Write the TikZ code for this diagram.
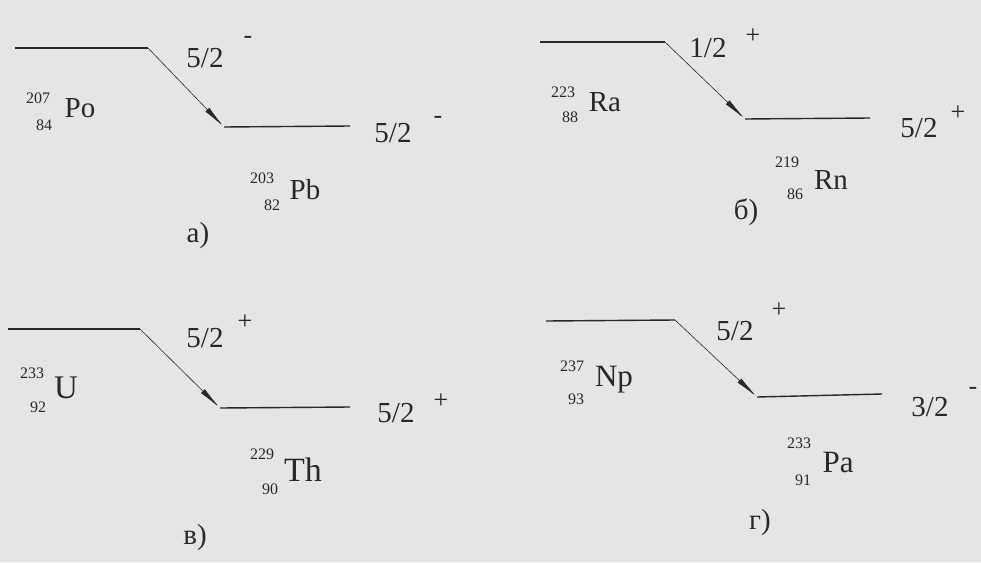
\documentclass[tikz,border=0pt]{standalone}
\usepackage{fontspec}
\setmainfont{Liberation Serif}
\usetikzlibrary{arrows.meta}
\definecolor{paper}{RGB}{229,229,231}
\definecolor{ink}{RGB}{40,40,40}
\begin{document}
\begin{tikzpicture}[x=1pt,y=-1pt,
  level/.style={draw=ink, line width=1.4pt},
  trans/.style={draw=ink, line width=0.6pt, -{Latex[length=24pt,width=5.5pt]}},
  spin/.style={inner sep=0pt, text=ink, font=\fontsize{29}{29}\selectfont},
  parity/.style={inner sep=0pt, text=ink, font=\fontsize{26}{26}\selectfont},
  nucnum/.style={inner sep=0pt, text=ink, font=\fontsize{16}{16}\selectfont},
  elem/.style={inner sep=0pt, text=ink, font=\fontsize{29}{29}\selectfont},
  panel/.style={inner sep=0pt, text=ink, font=\fontsize{29}{29}\selectfont}]
\fill[paper] (0,0) rectangle (981,562);
\useasboundingbox (0,0) rectangle (981,562);

% ---------- a)
\coordinate (a1) at (15,48);
\coordinate (a2) at (148,48);
\coordinate (a3) at (224,127);
\coordinate (a4) at (350,126);
\draw[level] (a1) -- (a2);
\draw[level] (a3) -- (a4);
\draw[trans] (a2) -- (a3);
\node[spin] (aspin1) at (205,58) {5/2};
\node[parity] (apar1) at (248,40) {-};
\node[spin] (aspin2) at (393,133) {5/2};
\node[parity] (apar2) at (438,120) {-};
\node[nucnum] (aA1) at (38,98) {207};
\node[nucnum] (aZ1) at (44,125) {84};
\node[elem] (aX1) at (80,108) {Po};
\node[nucnum] (aA2) at (262,178) {203};
\node[nucnum] (aZ2) at (272,205) {82};
\node[elem] (aX2) at (305,190) {Pb};
\node[panel] (alab) at (198,236) {а)};

% ---------- б)
\coordinate (b1) at (540,42);
\coordinate (b2) at (665,42);
\coordinate (b3) at (745,119);
\coordinate (b4) at (870,118);
\draw[level] (b1) -- (b2);
\draw[level] (b3) -- (b4);
\draw[trans] (b2) -- (b3);
\node[spin] (bspin1) at (708,48) {1/2};
\node[parity] (bpar1) at (753,36) {+};
\node[spin] (bspin2) at (919,128) {5/2};
\node[parity] (bpar2) at (958,113) {+};
\node[nucnum] (bA1) at (563,92) {223};
\node[nucnum] (bZ1) at (570,117) {88};
\node[elem] (bX1) at (605,102) {Ra};
\node[nucnum] (bA2) at (787,162) {219};
\node[nucnum] (bZ2) at (795,194) {86};
\node[elem] (bX2) at (831,180) {Rn};
\node[panel] (blab) at (746,212) {б)};

% ---------- в)
\coordinate (c1) at (8,329);
\coordinate (c2) at (140,329);
\coordinate (c3) at (220,408);
\coordinate (c4) at (350,407);
\draw[level] (c1) -- (c2);
\draw[level] (c3) -- (c4);
\draw[trans] (c2) -- (c3);
\node[spin] (cspin1) at (205,338) {5/2};
\node[parity] (cpar1) at (245,322) {+};
\node[spin] (cspin2) at (396,413) {5/2};
\node[parity] (cpar2) at (441,401) {+};
\node[nucnum] (cA1) at (32,373) {233};
\node[nucnum] (cZ1) at (38,407) {92};
\node[elem,font=\fontsize{33}{33}\selectfont] (cX1) at (66,388) {U};
\node[nucnum] (cA2) at (262,454) {229};
\node[nucnum] (cZ2) at (270,489) {90};
\node[elem,font=\fontsize{34}{34}\selectfont] (cX2) at (303,470) {Th};
\node[panel] (clab) at (195,538) {в)};

% ---------- г)
\coordinate (d1) at (546,321);
\coordinate (d2) at (675,320);
\coordinate (d3) at (757,397);
\coordinate (d4) at (882,394);
\draw[level] (d1) -- (d2);
\draw[level] (d3) -- (d4);
\draw[trans] (d2) -- (d3);
\node[spin] (dspin1) at (735,331) {5/2};
\node[parity] (dpar1) at (779,310) {+};
\node[spin] (dspin2) at (930,407) {3/2};
\node[parity] (dpar2) at (973,391) {-};
\node[nucnum] (dA1) at (572,366) {237};
\node[nucnum] (dZ1) at (576,399) {93};
\node[elem,font=\fontsize{31}{31}\selectfont] (dX1) at (614,380) {Np};
\node[nucnum] (dA2) at (799,443) {233};
\node[nucnum] (dZ2) at (803,480) {91};
\node[elem,font=\fontsize{31}{31}\selectfont] (dX2) at (838,462) {Pa};
\node[panel] (dlab) at (760,523) {г)};
\end{tikzpicture}
\end{document}
